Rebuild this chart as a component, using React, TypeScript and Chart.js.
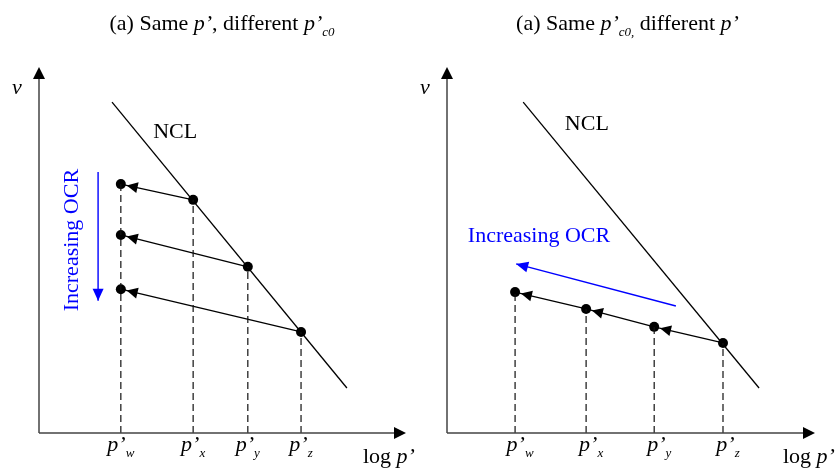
import React, { useEffect, useRef } from "react";
import { Chart, registerables } from "chart.js";

Chart.register(...registerables);

// ---------- data (log p' on x, v on y, arbitrary units) ----------
const tickNames = ["w", "x", "y", "z"];

// Panel 1: same p', different p'c0
const leftPressures = [2.23, 4.2, 5.69, 7.14]; // p'w, p'x, p'y, p'z
const leftNclV = [6.37, 4.54, 2.76]; // v on NCL at p'x, p'y, p'z
const leftUnloadV = [6.8, 5.41, 3.93]; // v after unloading to p'w
const leftNclX = [1.99, 8.39];
const leftNclY = [9.04, 1.23];
const leftOcrArrowX = [1.61, 1.61];
const leftOcrArrowY = [7.13, 3.61];
const leftNclLabel = [3.71, 8.22];
const leftOcrLabel = [0.9, 5.27];

// Panel 2: same p'c0, different p'
const rightPressures = [1.85, 3.78, 5.63, 7.5];
const rightV = [3.85, 3.39, 2.9, 2.46];
const rightNclX = [2.07, 8.48];
const rightNclY = [9.04, 1.23];
const rightOcrArrowX = [6.22, 1.88];
const rightOcrArrowY = [3.47, 4.62];
const rightNclLabel = [3.8, 8.44];
const rightOcrLabel = [2.5, 5.38];

// ---------- helpers ----------
const FONT = '"Liberation Serif", "Times New Roman", serif';
const SIZE = 22;
const PRIME = "p\u2019";

type Run = { t: string; it?: boolean; sub?: boolean };

function fontFor(r: Run) {
  return `${r.it ? "italic " : ""}${r.sub ? Math.round(SIZE * 0.6) : SIZE}px ${FONT}`;
}

function drawRuns(ctx: CanvasRenderingContext2D, runs: Run[], x: number, y: number, align: "left" | "center") {
  let w = 0;
  for (const r of runs) {
    ctx.font = fontFor(r);
    w += ctx.measureText(r.t).width;
  }
  let cx = align === "center" ? x - w / 2 : x;
  ctx.textAlign = "left";
  ctx.textBaseline = "alphabetic";
  for (const r of runs) {
    ctx.font = fontFor(r);
    ctx.fillText(r.t, cx, y + (r.sub ? SIZE * 0.25 : 0));
    cx += ctx.measureText(r.t).width;
  }
}

function arrowHead(
  ctx: CanvasRenderingContext2D,
  tipX: number,
  tipY: number,
  fromX: number,
  fromY: number,
  len: number,
  half: number,
  color: string
) {
  const ang = Math.atan2(tipY - fromY, tipX - fromX);
  const c = Math.cos(ang);
  const s = Math.sin(ang);
  const bx = tipX - len * c;
  const by = tipY - len * s;
  ctx.beginPath();
  ctx.moveTo(tipX, tipY);
  ctx.lineTo(bx + half * s, by - half * c);
  ctx.lineTo(bx - half * s, by + half * c);
  ctx.closePath();
  ctx.fillStyle = color;
  ctx.fill();
}

type Seg = { x0: number; y0: number; x1: number; y1: number };

type PanelCfg = {
  padding: { left: number; right: number; top: number; bottom: number };
  title: Run[];
  titleX: number;
  tickXs: number[];
  tickShift: number;
  logOffset: number;
  drops: { x: number; v: number }[];
  paths: Seg[];
  dots: { x: number; y: number }[];
  nclX: number[];
  nclY: number[];
  ocrX: number[];
  ocrY: number[];
  nclLabel: number[];
  ocrLabel: number[];
  ocrVertical: boolean;
};

function buildLeft(): PanelCfg {
  const pw = leftPressures[0];
  const paths: Seg[] = leftNclV.map((v, i) => ({
    x0: leftPressures[i + 1],
    y0: v,
    x1: pw,
    y1: leftUnloadV[i],
  }));
  const dots = [
    ...leftNclV.map((v, i) => ({ x: leftPressures[i + 1], y: v })),
    ...leftUnloadV.map((v) => ({ x: pw, y: v })),
  ];
  const drops = [
    { x: pw, v: Math.max(...leftUnloadV) },
    ...leftNclV.map((v, i) => ({ x: leftPressures[i + 1], v })),
  ];
  return {
    padding: { left: 39, right: 12, top: 67, bottom: 41 },
    title: [
      { t: "(a) Same " },
      { t: PRIME, it: true },
      { t: ", different " },
      { t: PRIME, it: true },
      { t: "c0", it: true, sub: true },
    ],
    titleX: 222,
    tickXs: leftPressures,
    tickShift: 0,
    logOffset: 43,
    drops,
    paths,
    dots,
    nclX: leftNclX,
    nclY: leftNclY,
    ocrX: leftOcrArrowX,
    ocrY: leftOcrArrowY,
    nclLabel: leftNclLabel,
    ocrLabel: leftOcrLabel,
    ocrVertical: true,
  };
}

function buildRight(): PanelCfg {
  const paths: Seg[] = [];
  for (let i = rightPressures.length - 1; i > 0; i--) {
    paths.push({ x0: rightPressures[i], y0: rightV[i], x1: rightPressures[i - 1], y1: rightV[i - 1] });
  }
  return {
    padding: { left: 29, right: 21, top: 67, bottom: 41 },
    title: [
      { t: "(a) Same " },
      { t: PRIME, it: true },
      { t: "c0,", it: true, sub: true },
      { t: " different " },
      { t: PRIME, it: true },
    ],
    titleX: 209.5,
    tickXs: rightPressures,
    tickShift: 5,
    logOffset: 32,
    drops: rightPressures.map((x, i) => ({ x, v: rightV[i] })),
    paths,
    dots: rightPressures.map((x, i) => ({ x, y: rightV[i] })),
    nclX: rightNclX,
    nclY: rightNclY,
    ocrX: rightOcrArrowX,
    ocrY: rightOcrArrowY,
    nclLabel: rightNclLabel,
    ocrLabel: rightOcrLabel,
    ocrVertical: false,
  };
}

function makeChart(canvas: HTMLCanvasElement, cfg: PanelCfg) {
  const datasets: any[] = [];
  cfg.drops.forEach((d) =>
    datasets.push({
      data: [
        { x: d.x, y: 0 },
        { x: d.x, y: d.v },
      ],
      showLine: true,
      borderColor: "#111",
      borderWidth: 1.2,
      borderDash: [7, 4],
      pointRadius: 0,
    })
  );
  cfg.paths.forEach((p) =>
    datasets.push({
      data: [
        { x: p.x0, y: p.y0 },
        { x: p.x1, y: p.y1 },
      ],
      showLine: true,
      borderColor: "#000",
      borderWidth: 1.3,
      pointRadius: 0,
    })
  );
  datasets.push({
    data: cfg.nclX.map((x, i) => ({ x, y: cfg.nclY[i] })),
    showLine: true,
    borderColor: "#000",
    borderWidth: 1.3,
    pointRadius: 0,
  });
  datasets.push({
    data: cfg.ocrX.map((x, i) => ({ x, y: cfg.ocrY[i] })),
    showLine: true,
    borderColor: "#0000ff",
    borderWidth: 1.4,
    pointRadius: 0,
  });
  datasets.push({
    data: cfg.dots,
    showLine: false,
    pointRadius: 5,
    pointBackgroundColor: "#000",
    pointBorderWidth: 0,
  });

  const plugin = {
    id: "diagram",
    afterDatasetsDraw(chart: any) {
      const ctx: CanvasRenderingContext2D = chart.ctx;
      const a = chart.chartArea;
      const xs = chart.scales.x;
      const ys = chart.scales.y;
      const px = (v: number) => xs.getPixelForValue(v);
      const py = (v: number) => ys.getPixelForValue(v);
      ctx.save();

      // axes
      ctx.strokeStyle = "#444";
      ctx.lineWidth = 1.5;
      ctx.beginPath();
      ctx.moveTo(a.left, a.bottom);
      ctx.lineTo(a.left, a.top + 6);
      ctx.moveTo(a.left, a.bottom);
      ctx.lineTo(a.right - 6, a.bottom);
      ctx.stroke();
      arrowHead(ctx, a.left, a.top, a.left, a.bottom, 12, 6, "#000");
      arrowHead(ctx, a.right, a.bottom, a.left, a.bottom, 12, 6, "#000");

      // path arrowheads
      for (const p of cfg.paths) {
        const sx = px(p.x0), sy = py(p.y0), ex = px(p.x1), ey = py(p.y1);
        const L = Math.hypot(ex - sx, ey - sy);
        const ux = (ex - sx) / L, uy = (ey - sy) / L;
        arrowHead(ctx, ex - ux * 6, ey - uy * 6, sx, sy, 11, 5.5, "#000");
      }

      // OCR arrowhead
      {
        const sx = px(cfg.ocrX[0]), sy = py(cfg.ocrY[0]), ex = px(cfg.ocrX[1]), ey = py(cfg.ocrY[1]);
        arrowHead(ctx, ex, ey, sx, sy, 12, 5.5, "#0000ff");
      }

      ctx.fillStyle = "#000";
      // title
      drawRuns(ctx, cfg.title, cfg.titleX, 30, "center");
      // y-axis label
      drawRuns(ctx, [{ t: "v", it: true }], a.left - 22, a.top + 27, "center");
      // x-axis label
      drawRuns(ctx, [{ t: "log " }, { t: PRIME, it: true }], a.right - cfg.logOffset, 463, "left");
      // tick labels
      cfg.tickXs.forEach((x, i) => {
        drawRuns(ctx, [{ t: PRIME, it: true }, { t: tickNames[i], it: true, sub: true }], px(x) + cfg.tickShift, a.bottom + 18, "center");
      });
      // NCL label
      ctx.font = `${SIZE}px ${FONT}`;
      ctx.textAlign = "center";
      ctx.textBaseline = "middle";
      ctx.fillText("NCL", px(cfg.nclLabel[0]), py(cfg.nclLabel[1]));
      // OCR label
      ctx.fillStyle = "#0000ff";
      if (cfg.ocrVertical) {
        ctx.translate(px(cfg.ocrLabel[0]), py(cfg.ocrLabel[1]));
        ctx.rotate(-Math.PI / 2);
        ctx.fillText("Increasing OCR", 0, 0);
      } else {
        ctx.fillText("Increasing OCR", px(cfg.ocrLabel[0]), py(cfg.ocrLabel[1]));
      }
      ctx.restore();
    },
  };

  return new Chart(canvas, {
    type: "scatter",
    data: { datasets },
    options: {
      animation: false,
      responsive: false,
      events: [],
      layout: { padding: cfg.padding },
      plugins: { legend: { display: false }, tooltip: { enabled: false } },
      scales: {
        x: { type: "linear", min: 0, max: 10, display: false },
        y: { type: "linear", min: 0, max: 10, display: false },
      },
    },
    plugins: [plugin],
  });
}

export default function App() {
  const leftRef = useRef<HTMLCanvasElement>(null);
  const rightRef = useRef<HTMLCanvasElement>(null);

  useEffect(() => {
    const c1 = makeChart(leftRef.current!, buildLeft());
    const c2 = makeChart(rightRef.current!, buildRight());
    return () => {
      c1.destroy();
      c2.destroy();
    };
  }, []);

  return (
    <div
      style={{
        position: "absolute",
        left: 0,
        top: 0,
        width: 836,
        height: 474,
        display: "flex",
        background: "#fff",
      }}
    >
      <canvas ref={leftRef} width={418} height={474} style={{ width: 418, height: 474, display: "block" }} />
      <canvas ref={rightRef} width={418} height={474} style={{ width: 418, height: 474, display: "block" }} />
    </div>
  );
}
